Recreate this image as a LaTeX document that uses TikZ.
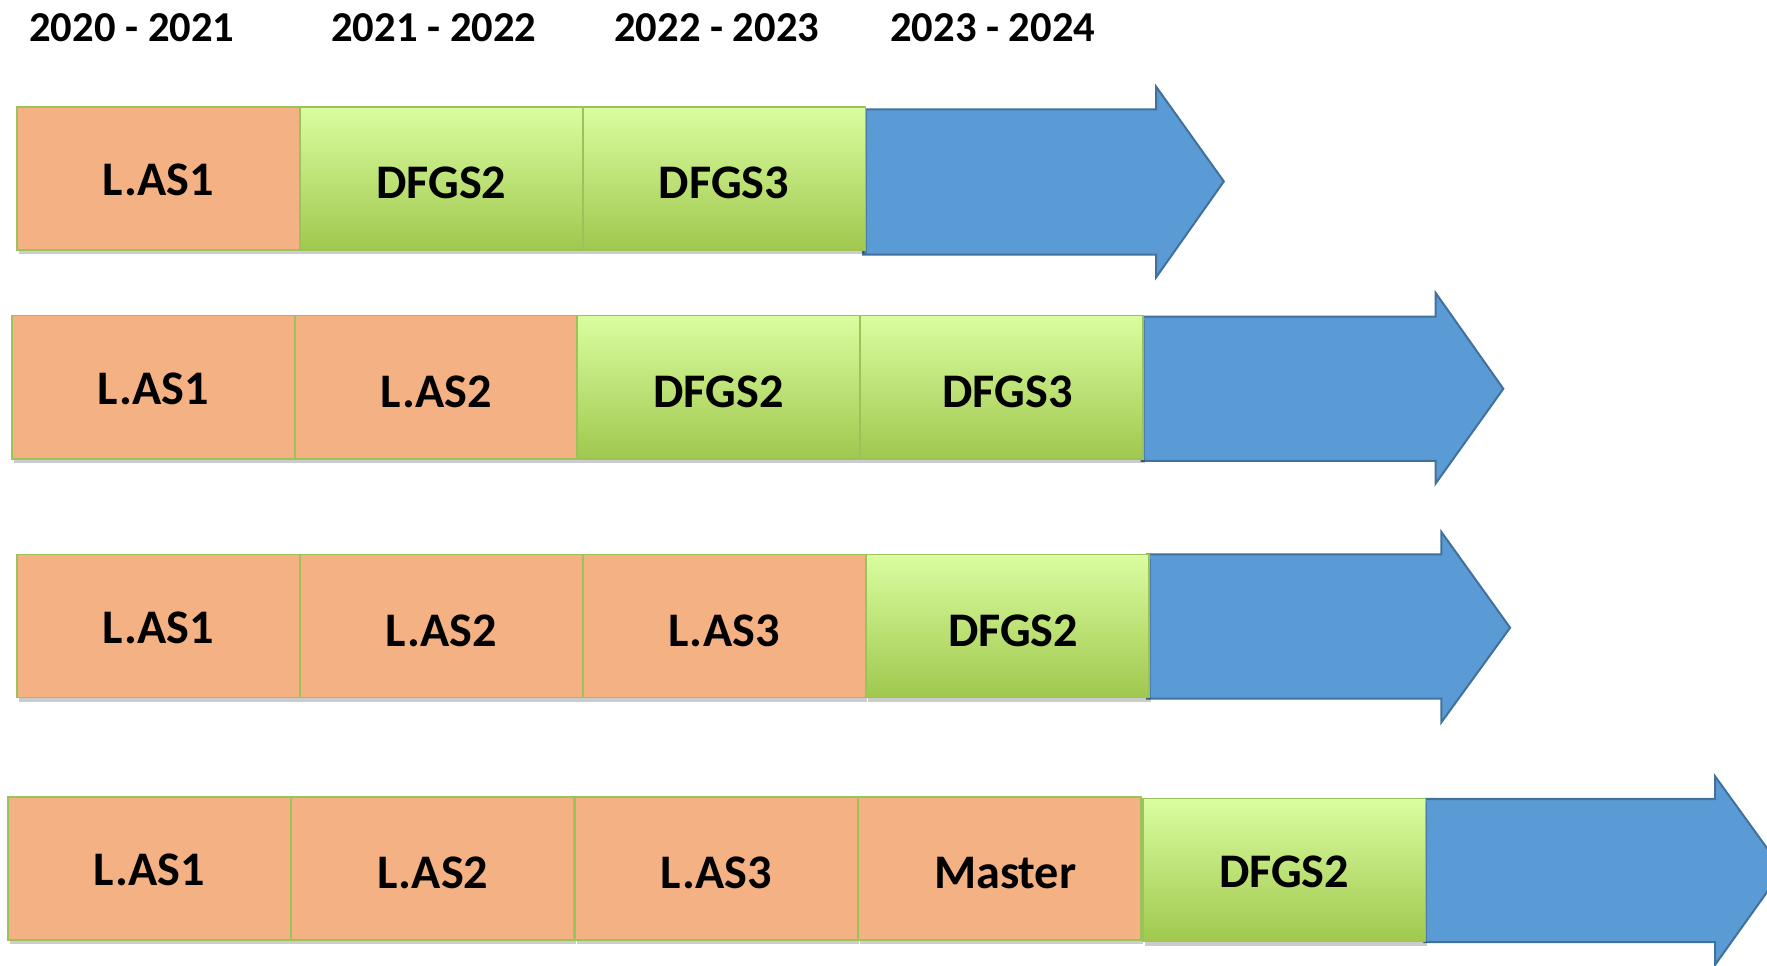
\documentclass[tikz,border=0pt]{standalone}
\usepackage{fontspec}
\setmainfont{Carlito}
\usetikzlibrary{shadows}
\definecolor{orangefill}{RGB}{244,177,131}
\definecolor{boxline}{RGB}{155,195,90}
\definecolor{greentop}{RGB}{218,253,160}
\definecolor{greenbot}{RGB}{160,200,78}
\definecolor{arrowfill}{RGB}{91,155,213}
\definecolor{arrowline}{RGB}{65,113,156}
\tikzset{
  basebox/.style={draw=boxline, line width=0.8pt, inner sep=0pt,
    minimum width=125.5pt, minimum height=63.5pt,
    font=\fontsize{21.4}{24}\selectfont\bfseries,
    text height=17.8pt, text depth=0pt,
    drop shadow={shadow xshift=0.8pt, shadow yshift=-1.8pt, opacity=0.2, fill=black}},
  firstcol/.style={text height=15.3pt},
  shiftr/.style={execute at begin node={\hspace*{5pt}}},
  obox/.style={basebox, fill=orangefill},
  gbox/.style={basebox, top color=greentop, bottom color=greenbot},
  bigarrow/.style={fill=arrowfill, draw=arrowline, line width=0.9pt, line join=miter},
  year/.style={font=\fontsize{18.9}{22}\selectfont\bfseries, inner sep=0pt}
}
\begin{document}
\begin{tikzpicture}[x=0.5pt, y=-0.5pt]
\clip (0,0) rectangle (1568,857);
\fill[white] (0,0) rectangle (1568,857);
% years
\node[year] (y1) at (117,25) {2020 - 2021};
\node[year] (y2) at (385,25) {2021 - 2022};
\node[year] (y3) at (636,25) {2022 - 2023};
\node[year] (y4) at (881,25) {2023 - 2024};
% arrows (drawn first, boxes over them)
\draw[bigarrow] (766,97) -- (1026,97) -- (1026,77) -- (1086,161) -- (1026,246) -- (1026,226) -- (766,226) -- cycle;
\draw[bigarrow] (1013,281) -- (1274,281) -- (1274,260) -- (1334,345) -- (1274,429) -- (1274,409) -- (1013,409) -- cycle;
\draw[bigarrow] (1018,492) -- (1279,492) -- (1279,472) -- (1340,557) -- (1279,641) -- (1279,620) -- (1018,620) -- cycle;
\draw[bigarrow] (1264,709) -- (1522,709) -- (1522,689) -- (1582,772) -- (1522,856) -- (1522,836) -- (1264,836) -- cycle;
% row 1
\node[obox, firstcol] (r1a) at (140.5,158.5) {L.AS1};
\node[gbox] (r1b) at (391.5,158.5) {DFGS2};
\node[gbox] (r1c) at (642.5,158.5) {DFGS3};
% row 2
\node[obox, firstcol] (r2a) at (136,343.5) {L.AS1};
\node[obox] (r2b) at (387,343.5) {L.AS2};
\node[gbox] (r2c) at (637.5,343.5) {DFGS2};
\node[gbox, shiftr] (r2d) at (889,343.5) {DFGS3};
% row 3
\node[obox, firstcol] (r3a) at (140.5,555.5) {L.AS1};
\node[obox] (r3b) at (391.5,555.5) {L.AS2};
\node[obox] (r3c) at (642.5,555.5) {L.AS3};
\node[gbox, shiftr] (r3d) at (894,555.5) {DFGS2};
% row 4
\node[obox, firstcol] (r4a) at (132.5,770.5) {L.AS1};
\node[obox] (r4b) at (384,770.5) {L.AS2};
\node[obox] (r4c) at (635.5,770.5) {L.AS3};
\node[obox, shiftr] (r4d) at (887,770.5) {Master};
\node[gbox, firstcol] (r4e) at (1139.5,772) {DFGS2};
\end{tikzpicture}
\end{document}
